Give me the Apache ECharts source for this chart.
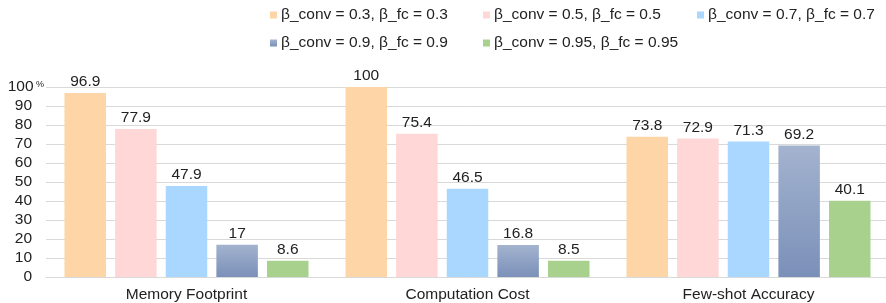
<!DOCTYPE html>
<html>
<head>
<meta charset="utf-8">
<script src="https://cdn.jsdelivr.net/npm/echarts@6/dist/echarts.min.js"></script>
<style>
  html, body { margin: 0; padding: 0; background: #fff; }
  #chart { width: 886px; height: 303px; }
</style>
</head>
<body>
<div id="chart"></div>
<script>
const categories = ['Memory Footprint', 'Computation Cost', 'Few-shot Accuracy'];
const seriesNames = [
  'β_conv = 0.3, β_fc = 0.3',
  'β_conv = 0.5, β_fc = 0.5',
  'β_conv = 0.7, β_fc = 0.7',
  'β_conv = 0.9, β_fc = 0.9',
  'β_conv = 0.95, β_fc = 0.95'
];
const beta03 = [96.9, 100, 73.8];
const beta05 = [77.9, 75.4, 72.9];
const beta07 = [47.9, 46.5, 71.3];
const beta09 = [17, 16.8, 69.2];
const beta095 = [8.6, 8.5, 40.1];
const yTicks = [0, 10, 20, 30, 40, 50, 60, 70, 80, 90, 100];

const colors = [
  '#FDD5A6',
  '#FFD7D7',
  '#A9D7FF',
  new echarts.graphic.LinearGradient(0, 0, 0, 1, [
    { offset: 0, color: '#A3B3CF' },
    { offset: 1, color: '#7B90B9' }
  ]),
  '#A9D18E'
];

const font = 'Liberation Sans, Arial, sans-serif';
const fs = 15.5;

function makeSeries(name, data, i) {
  return {
    name: name,
    type: 'bar',
    data: data,
    barWidth: 41.5,
    barGap: '22%',
    itemStyle: { color: colors[i] },
    label: {
      show: true,
      position: 'top',
      distance: 3,
      color: '#222',
      fontSize: fs,
      fontFamily: font
    }
  };
}

// one legend per item so the two rows line up like the original
const legendSpots = [[270, 7], [483, 7], [697, 7], [270, 35], [483, 35]];
const legends = seriesNames.map(function (n, i) {
  return {
    left: legendSpots[i][0],
    top: legendSpots[i][1],
    padding: 0,
    itemWidth: 7,
    itemHeight: 7,
    icon: 'rect',
    textStyle: { fontSize: fs, color: '#222', fontFamily: font, padding: [0, 0, 0, -1] },
    data: [n]
  };
});

const chart = echarts.init(document.getElementById('chart'));
chart.setOption({
  animation: false,
  color: ['#FDD5A6', '#FFD7D7', '#A9D7FF', '#8C9FC3', '#A9D18E'],
  legend: legends,
  grid: {
    left: 46, top: 87, width: 843, height: 190,
    containLabel: false,
    outerBoundsMode: 'none'
  },
  xAxis: {
    type: 'category',
    data: categories,
    axisLine: { lineStyle: { color: '#d9d9d9' } },
    axisTick: { show: false },
    axisLabel: { fontSize: fs, color: '#222', fontFamily: font, margin: 10 }
  },
  yAxis: {
    type: 'value',
    min: yTicks[0],
    max: yTicks[yTicks.length - 1],
    interval: 10,
    splitLine: { lineStyle: { color: '#d9d9d9' } },
    axisLabel: {
      margin: 2,
      fontFamily: font,
      formatter: function (v) {
        return v === 100 ? '{n|100}{p| %}' : '{n|' + v + '}{s|}';
      },
      rich: {
        n: { fontSize: fs, color: '#222', fontFamily: font },
        p: { fontSize: 9, color: '#222', fontFamily: font, padding: [0, 0, 4, 0] },
        s: { width: 12 }
      }
    }
  },
  series: [
    makeSeries(seriesNames[0], beta03, 0),
    makeSeries(seriesNames[1], beta05, 1),
    makeSeries(seriesNames[2], beta07, 2),
    makeSeries(seriesNames[3], beta09, 3),
    makeSeries(seriesNames[4], beta095, 4)
  ]
});
</script>
</body>
</html>
